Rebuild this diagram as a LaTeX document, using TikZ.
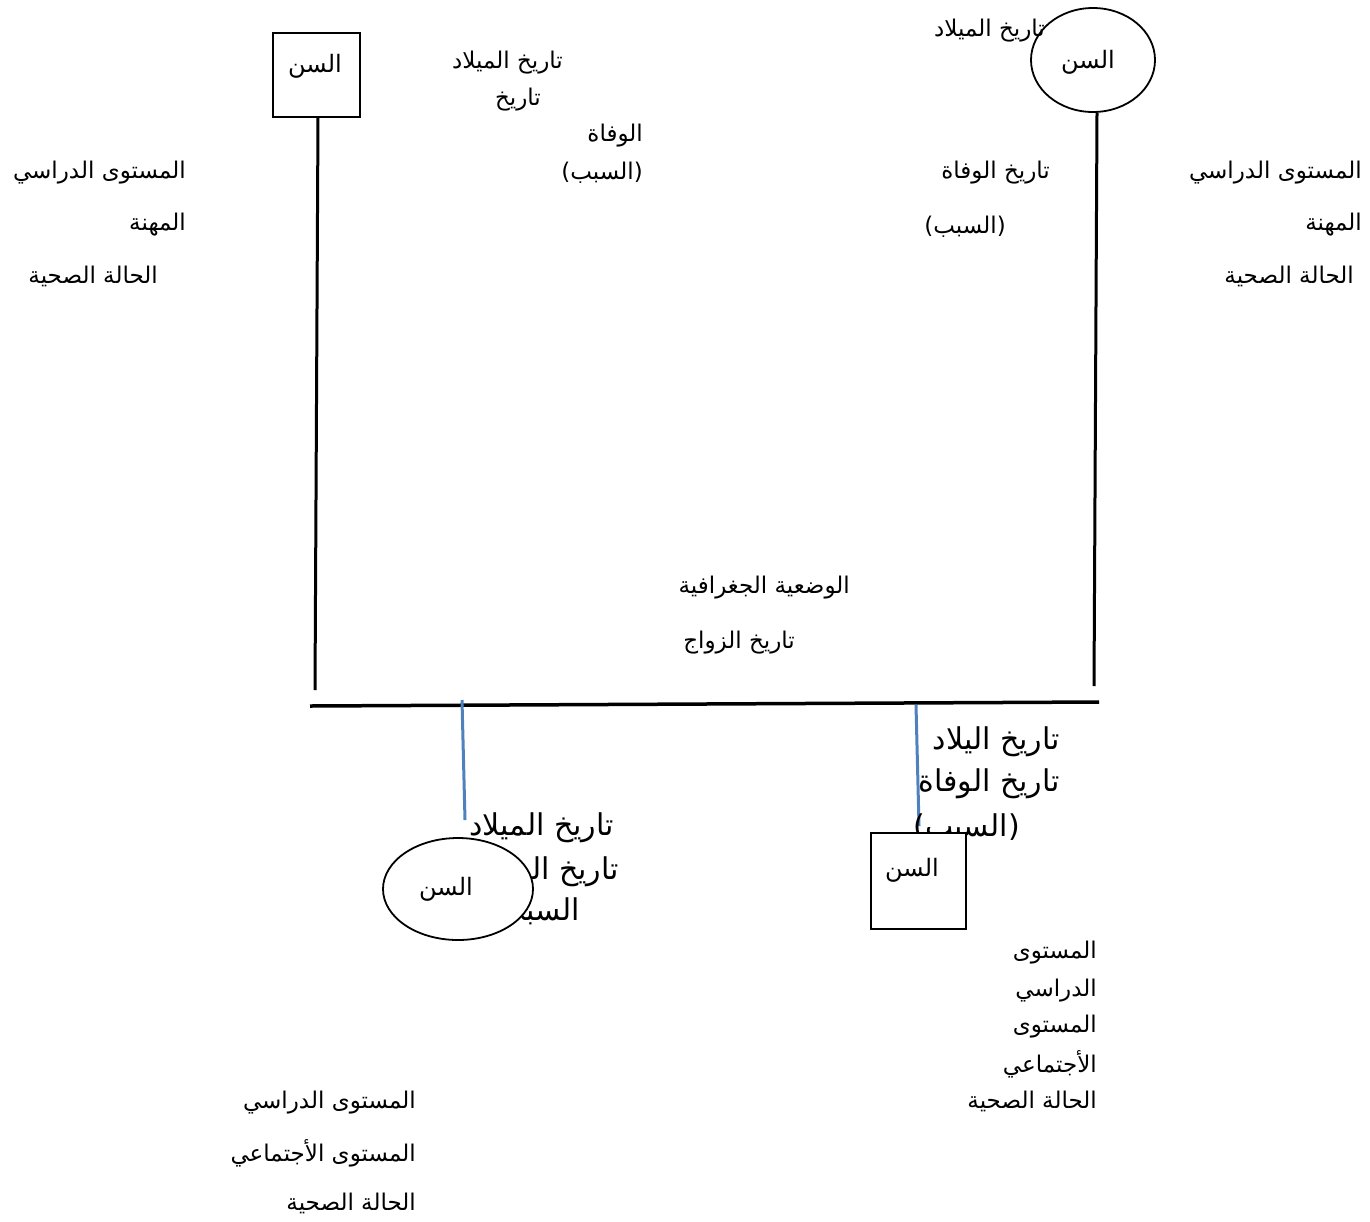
\documentclass[tikz,border=0pt]{standalone}
\usepackage{fontspec}
\usetikzlibrary{shapes.geometric}
\TeXXeTstate=1
\newfontfamily\arabicfont[Script=Arabic]{DejaVu Sans}
\newfontfamily\parenfont{DejaVu Sans}
\newcommand\arr[1]{\beginR #1\endR}
\newcommand\lp{{\parenfont(}}
\newcommand\rp{{\parenfont)}}
\definecolor{lineblue}{RGB}{79,129,189}
\tikzset{
  lbl/.style={anchor=east, inner sep=0pt, yshift=-3pt, font=\arabicfont\fontsize{23}{26}\selectfont},
  biglbl/.style={anchor=east, inner sep=0pt, yshift=-2pt, font=\arabicfont\fontsize{30}{34}\selectfont},
  nametxt/.style={inner sep=0pt, font=\arabicfont\fontsize{24}{28}\selectfont},
  person/.style={draw, line width=1.8pt, inner sep=0pt},
  malebox/.style={person, rectangle, minimum width=87pt, minimum height=84pt},
  femaleell/.style={person, ellipse, minimum width=124pt, minimum height=104pt},
  trunk/.style={line width=3pt},
  kidline/.style={lineblue, line width=3pt}
}
\begin{document}
\begin{tikzpicture}[x=1pt,y=-1pt]
\useasboundingbox (0,0) rectangle (1370,1221);
% ---- top-right female (no fill, text drawn over it)
\node[femaleell] (mother) at (1093,60) {};
\node[nametxt] (mothert) at (1088,62) {\arr{السن}};
% ---- top-left male
\node[malebox] (father) at (316.5,75) {};
\node[nametxt] (fathert) at (315,66) {\arr{السن}};
% ---- father labels
\node[lbl] (fb1) at (563,60) {\arr{تاريخ الميلاد}};
\node[lbl] (fb2) at (541,97) {\arr{تاريخ}};
\node[lbl] (fb3) at (643,133) {\arr{الوفاة}};
\node[lbl] (fb4) at (643,170) {\lp\arr{السبب}\rp};
\node[lbl] (fl1) at (186,170) {\arr{المستوى الدراسي}};
\node[lbl] (fl2) at (186,222) {\arr{المهنة}};
\node[lbl] (fl3) at (158,273) {\arr{الحالة الصحية}};
% ---- mother labels
\node[lbl] (mb1) at (1045,28) {\arr{تاريخ الميلاد}};
\node[lbl] (mb2) at (1050,170) {\arr{تاريخ الوفاة}};
\node[lbl] (mb3) at (1006,224) {\lp\arr{السبب}\rp};
\node[lbl] (ml1) at (1362,170) {\arr{المستوى الدراسي}};
\node[lbl] (ml2) at (1362,222) {\arr{المهنة}};
\node[lbl] (ml3) at (1354,273) {\arr{الحالة الصحية}};
% ---- marriage labels
\node[lbl] (geo) at (850,585) {\arr{الوضعية الجغرافية}};
\node[lbl] (wed) at (795,640) {\arr{تاريخ الزواج}};
% ---- trunk lines
\coordinate (fbot) at (315,690);
\coordinate (mbot) at (1094,686);
\coordinate (marL) at (310,706);
\coordinate (marR) at (1099,702);
\draw[trunk] (318,117) -- (fbot);
\draw[trunk] (mother.south) ++(4,0) coordinate (mtop) -- (mbot);
\draw[line width=3.5pt] (marL) -- (marR);
% ---- children connectors
\coordinate (c1top) at (462,700);
\coordinate (c1end) at (465,820);
\coordinate (c2top) at (916,705);
\coordinate (c2end) at (919,826);
\draw[kidline] (c1top) -- (c1end);
\draw[kidline] (c2top) -- (c2end);
% ---- daughter labels (partly hidden by ellipse)
\node[biglbl] (db1) at (614,826) {\arr{تاريخ الميلاد}};
\node[biglbl] (db2) at (619,870) {\arr{تاريخ الوفاة}};
\node[biglbl] (db3) at (580,910) {\lp\arr{السبب}};
\node[femaleell, fill=white, minimum width=150pt, minimum height=102pt] (daughter) at (458,889) {};
\node[nametxt] (daughtert) at (446,889) {\arr{السن}};
% ---- son labels (partly hidden by box)
\node[biglbl] (sb1) at (1060,740) {\arr{تاريخ اليلاد}};
\node[biglbl] (sb2) at (1060,782) {\arr{تاريخ الوفاة}};
\node[biglbl] (sb3) at (1020,826) {\lp\arr{السبب}\rp};
\node[malebox, fill=white, minimum width=95pt, minimum height=96pt] (son) at (918.5,881) {};
\node[nametxt] (sont) at (912,870) {\arr{السن}};
% ---- son lower labels
\node[lbl] (sl1) at (1097,950) {\arr{المستوى}};
\node[lbl] (sl2) at (1097,988) {\arr{الدراسي}};
\node[lbl] (sl3) at (1097,1024) {\arr{المستوى}};
\node[lbl] (sl4) at (1097,1061) {\arr{الأجتماعي}};
\node[lbl] (sl5) at (1097,1098) {\arr{الحالة الصحية}};
% ---- daughter lower labels
\node[lbl] (dl1) at (416,1100) {\arr{المستوى الدراسي}};
\node[lbl] (dl2) at (416,1150) {\arr{المستوى الأجتماعي}};
\node[lbl] (dl3) at (416,1200) {\arr{الحالة الصحية}};
\end{tikzpicture}
\end{document}
